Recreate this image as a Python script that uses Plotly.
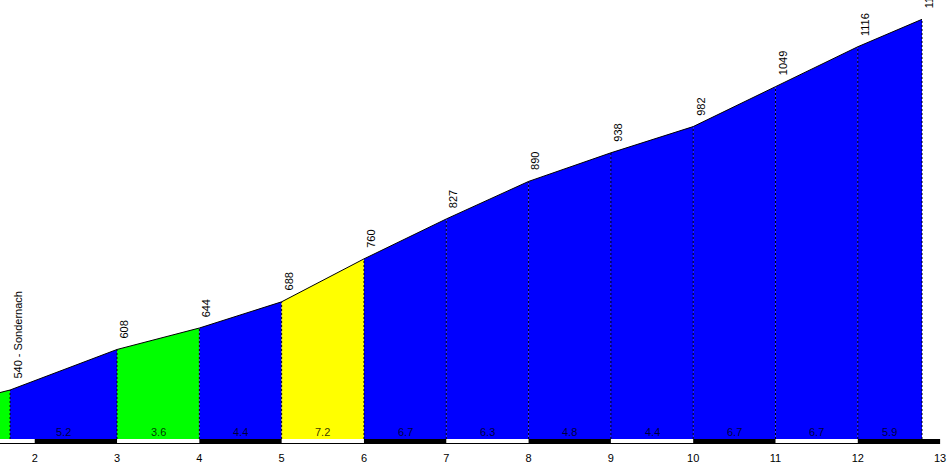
import plotly.graph_objects as go

# ---- data ----
km_points = [1.5, 1.7, 3, 4, 5, 6, 7, 8, 9, 10, 11, 12, 12.78]
elevations = [533, 540, 608, 644, 688, 760, 827, 890, 938, 982, 1049, 1116, 1162]
elev_labels = [None, "540 - Sondernach", "608", "644", "688", "760", "827", "890",
               "938", "982", "1049", "1116", "1162"]
gradients = [None, "5.2", "3.6", "4.4", "7.2", "6.7", "6.3", "4.8", "4.4", "6.7", "6.7", "5.9"]
segment_colors = ["#00FF00", "#0000FF", "#00FF00", "#0000FF", "#FFFF00", "#0000FF",
                  "#0000FF", "#0000FF", "#0000FF", "#0000FF", "#0000FF", "#0000FF"]
tick_values = [2, 3, 4, 5, 6, 7, 8, 9, 10, 11, 12, 13]

# ---- layout constants ----
X_MIN, X_MAX = 1.578, 13.108
Y_MIN, Y_MAX = 449.4, 1194.4
BASE = 457.8
LABEL_Y = 469.5
FONT = "Liberation Sans, Arial, sans-serif"

fig = go.Figure()

# filled segments
for i in range(len(km_points) - 1):
    x0, x1 = km_points[i], km_points[i + 1]
    e0, e1 = elevations[i], elevations[i + 1]
    fig.add_trace(go.Scatter(
        x=[x0, x0, x1, x1, x0], y=[BASE, e0, e1, BASE, BASE],
        mode="lines", fill="toself", fillcolor=segment_colors[i],
        line=dict(width=0), hoverinfo="skip", showlegend=False))

# dashed verticals
for x, e in zip(km_points[1:], elevations[1:]):
    fig.add_shape(type="line", x0=x, x1=x, y0=BASE, y1=e, xref="x", yref="y",
                  line=dict(color="black", width=1, dash="2px,2px"))

# profile line
fig.add_trace(go.Scatter(x=km_points, y=elevations, mode="lines",
                         line=dict(color="black", width=1), hoverinfo="skip",
                         showlegend=False))

# km bar
fig.add_shape(type="rect", xref="x", yref="paper", x0=X_MIN, x1=13, y0=0, y1=5 / 444,
              fillcolor="black", line=dict(width=0), layer="above")
white_spans = [(X_MIN, 2)] + [(k, k + 1) for k in range(3, 13, 2)]
for a, b in white_spans:
    fig.add_shape(type="rect", xref="x", yref="paper", x0=a, x1=b, y0=1 / 444, y1=5 / 444,
                  fillcolor="white", line=dict(width=0), layer="above")

# elevation labels
for x, e, t in zip(km_points, elevations, elev_labels):
    if t is None:
        continue
    fig.add_annotation(x=x, y=e, text=t, textangle=-90, showarrow=False,
                       xanchor="center", yanchor="bottom", xshift=7, yshift=9,
                       font=dict(family=FONT, size=11, color="black"))

# gradient labels
for i, g in enumerate(gradients):
    if g is None:
        continue
    xm = (km_points[i] + km_points[i + 1]) / 2
    fig.add_annotation(x=xm, y=LABEL_Y, text=g, showarrow=False,
                       xanchor="center", yanchor="middle",
                       font=dict(family=FONT, size=11, color="rgba(0,0,0,0.8)"))

fig.update_layout(
    width=949, height=465,
    margin=dict(l=0, r=0, t=0, b=21, pad=0),
    paper_bgcolor="white", plot_bgcolor="white",
    hovermode=False,
    xaxis=dict(range=[X_MIN, X_MAX], tickvals=tick_values, showgrid=False, zeroline=False,
               showline=False, ticks="", ticklabelstandoff=6,
               tickfont=dict(family=FONT, size=11, color="black")),
    yaxis=dict(range=[Y_MIN, Y_MAX], visible=False, showgrid=False),
)

fig.write_html("out.html", config={"displayModeBar": False, "staticPlot": True},
               post_script="document.body.style.margin='0';document.body.style.overflow='hidden';")
